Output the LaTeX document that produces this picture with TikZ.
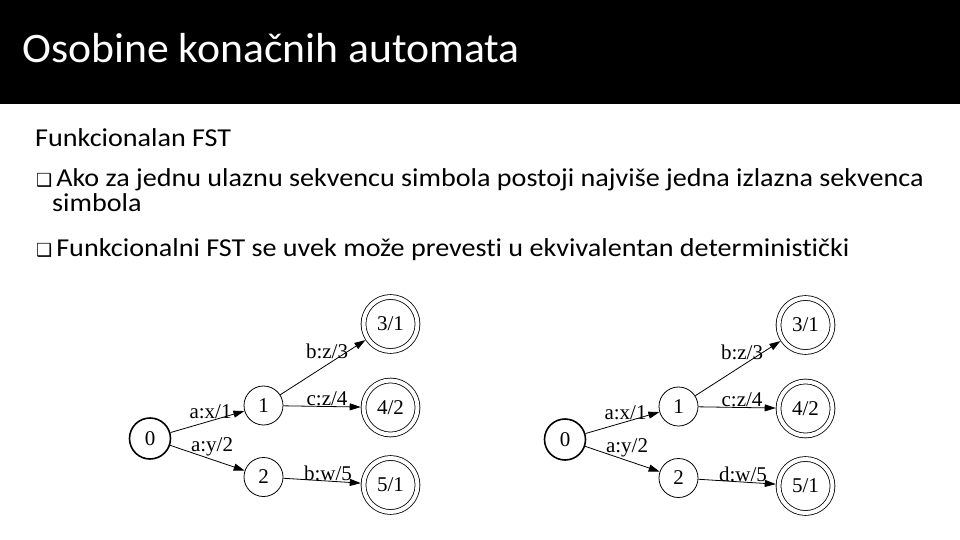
\documentclass[tikz,border=0pt]{standalone}
\usepackage{fontspec}
\setmainfont{Carlito}[Ligatures={NoCommon,NoContextual}, Contextuals={NoAlternate}]
\newfontfamily\titlefont{Carlito}[FakeStretch=1.04, Ligatures={NoCommon,NoContextual}, Contextuals={NoAlternate}]
\newfontfamily\bodyfont{Carlito}[FakeStretch=1.09, Ligatures={NoCommon,NoContextual}, Contextuals={NoAlternate}]
\newfontfamily\graphfont{Liberation Serif}
\newfontfamily\bulletfont{DejaVu Sans}
\usetikzlibrary{arrows.meta}
\newcommand{\sqbullet}{{\bulletfont\fontsize{18}{18}\selectfont ❑}\hspace{4pt}}
\tikzset{
  state/.style={circle, draw, line width=0.8pt, minimum size=39pt, inner sep=0pt,
    font=\graphfont\fontsize{21}{21}\selectfont},
  initstate/.style={state, line width=1.6pt, minimum size=41pt},
  finalstate/.style={state, double, double distance=4pt, minimum size=54pt, outer sep=2.8pt},
  lbl/.style={inner sep=0pt, font=\graphfont\fontsize{21}{21}\selectfont},
  trans/.style={line width=0.8pt, -{Triangle[length=11pt,width=7pt]}},
  body/.style={anchor=base west, inner sep=0pt, font=\bodyfont\fontsize{25.8}{25.8}\selectfont}
}
\begin{document}
\begin{tikzpicture}[x=1pt,y=-1pt]
    \useasboundingbox (0,0) rectangle (960,540);
    % title bar
    \fill[black] (0,0) rectangle (960,104);
    \node[anchor=base west, inner sep=0pt, text=white,
      font=\titlefont\fontsize{42}{42}\selectfont] (title) at (22,63) {Osobine konačnih automata};

    % text
    \node[body] (head) at (35,147) {Funkcionalan FST};
    \node[body] (item1) at (36,186) {\sqbullet Ako za jednu ulaznu sekvencu simbola postoji najviše jedna izlazna sekvenca};
    \node[body] (item1b) at (52,211) {simbola};
    \node[body] (item2) at (36,256) {\sqbullet Funkcionalni FST se uvek može prevesti u ekvivalentan deterministički};

    % left FST
    \node[initstate] (l0) at (150,438.5) {0};
    \node[state] (l1) at (263.5,405.5) {1};
    \node[state] (l2) at (263.5,477) {2};
    \node[finalstate] (l3) at (390.5,324) {3/1};
    \node[finalstate] (l4) at (390.5,407.5) {4/2};
    \node[finalstate] (l5) at (390.5,485) {5/1};
    \draw[trans] (l0) -- (l1);
    \draw[trans] (l0) -- (l2);
    \draw[trans] (l1) -- (l3);
    \draw[trans] (l1) -- (l4);
    \draw[trans] (l2) -- (l5);
    \node[lbl] (l01) at (210.5,411.7) {a:x/1};
    \node[lbl] (l02) at (212,446.5) {a:y/2};
    \node[lbl] (l13) at (327,351) {b:z/3};
    \node[lbl] (l14) at (327,398.5) {c:z/4};
    \node[lbl] (l25) at (328,473.3) {b:w/5};

    % right FST
    \node[initstate] (r0) at (565,439.5) {0};
    \node[state] (r1) at (678.5,406.5) {1};
    \node[state] (r2) at (678.5,478) {2};
    \node[finalstate] (r3) at (805.5,325) {3/1};
    \node[finalstate] (r4) at (805.5,408.5) {4/2};
    \node[finalstate] (r5) at (805.5,486) {5/1};
    \draw[trans] (r0) -- (r1);
    \draw[trans] (r0) -- (r2);
    \draw[trans] (r1) -- (r3);
    \draw[trans] (r1) -- (r4);
    \draw[trans] (r2) -- (r5);
    \node[lbl] (r01) at (625.5,412.7) {a:x/1};
    \node[lbl] (r02) at (627,447.5) {a:y/2};
    \node[lbl] (r13) at (742,352) {b:z/3};
    \node[lbl] (r14) at (742,399.5) {c:z/4};
    \node[lbl] (r25) at (743,474.3) {d:w/5};
\end{tikzpicture}
\end{document}
